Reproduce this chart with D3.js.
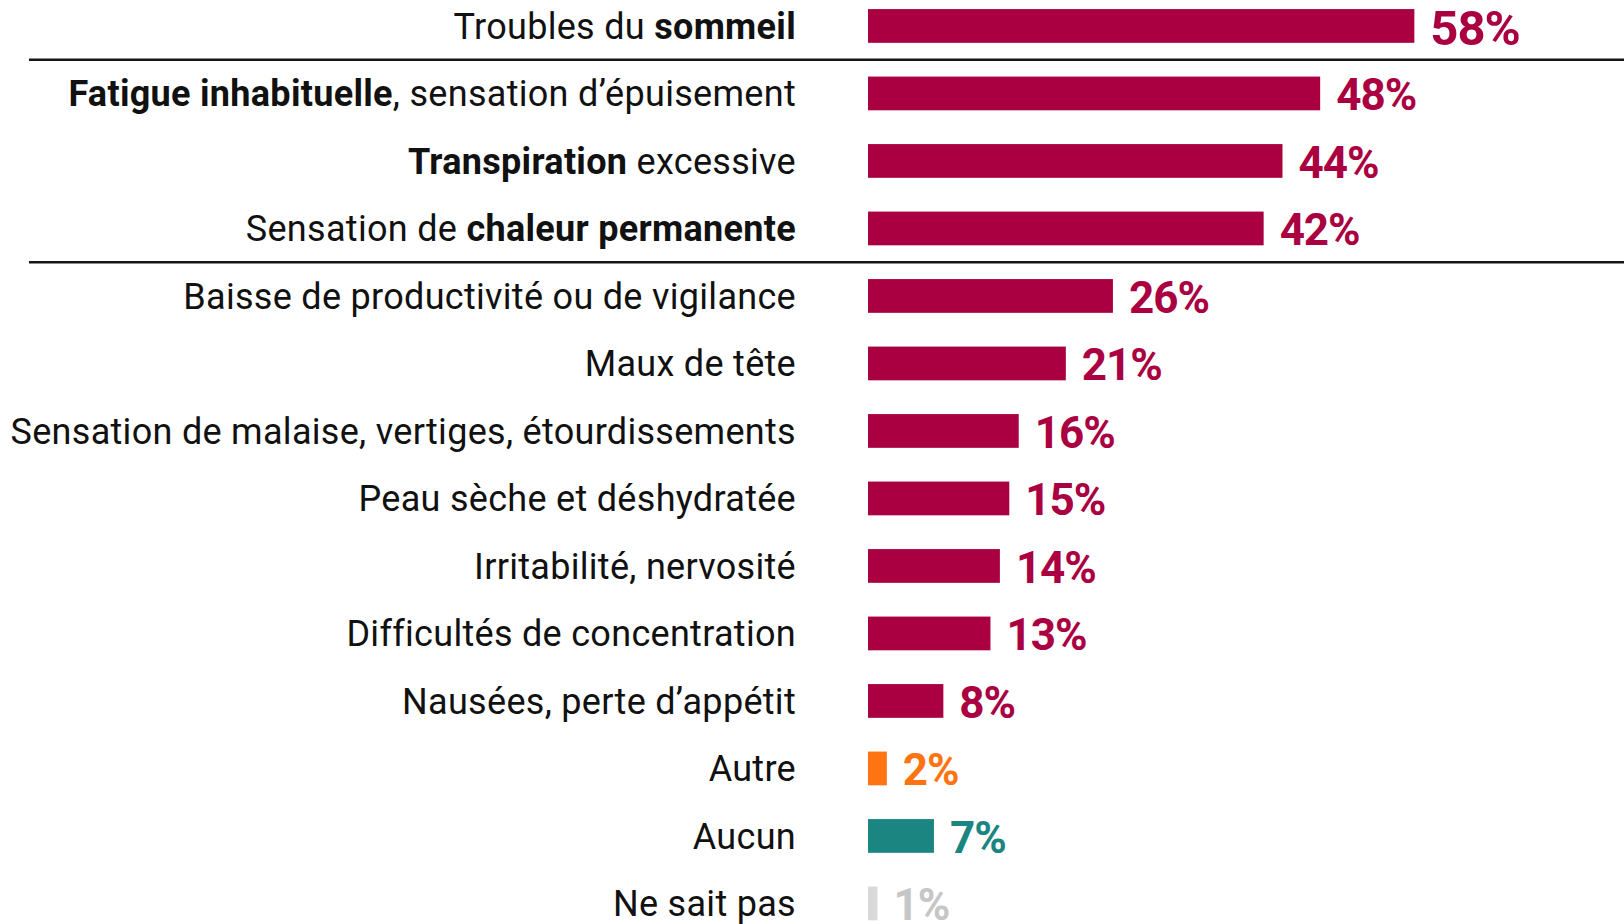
<html>

<head>
    <meta charset="utf-8" />
    <title>Symptômes</title>
    <script src="https://d3js.org/d3.v7.min.js"></script>
    <style>
        body {
            margin: 0;
            background: #fff;
            font-family: Roboto, "Noto Sans", Arial, sans-serif;
        }

        .cat-label {
            font-size: 36px;
            fill: #111;
            letter-spacing: 0.3px;
        }

        .val-label {
            font-weight: 700;
            font-size: 44px;
            letter-spacing: -1px;
        }
    </style>
</head>

<body>
    <svg id="chart" width="1624" height="924"></svg>
    <script>
        const categories = [
            "Troubles du sommeil",
            "Fatigue inhabituelle, sensation d’épuisement",
            "Transpiration excessive",
            "Sensation de chaleur permanente",
            "Baisse de productivité ou de vigilance",
            "Maux de tête",
            "Sensation de malaise, vertiges, étourdissements",
            "Peau sèche et déshydratée",
            "Irritabilité, nervosité",
            "Difficultés de concentration",
            "Nausées, perte d’appétit",
            "Autre",
            "Aucun",
            "Ne sait pas"
        ]
        // part of each label set in bold ("" = none)
        const boldTerms = ["sommeil", "Fatigue inhabituelle", "Transpiration", "chaleur permanente",
            "", "", "", "", "", "", "", "", "", ""]
        const values = [58, 48, 44, 42, 26, 21, 16, 15, 14, 13, 8, 2, 7, 1]
        const groups = ["symptom", "symptom", "symptom", "symptom", "symptom", "symptom", "symptom",
            "symptom", "symptom", "symptom", "symptom", "other", "none", "dk"]
        // separators drawn above these rows
        const separatorsBefore = [1, 4]

        const svg = d3.select("svg#chart")
        const width = +svg.attr("width")
        const height = +svg.attr("height")

        const barColor = d3.scaleOrdinal()
            .domain(["symptom", "other", "none", "dk"])
            .range(["#aa0042", "#ff7412", "#1a8581", "#d9d9d9"])
        const textColor = d3.scaleOrdinal()
            .domain(["symptom", "other", "none", "dk"])
            .range(["#aa0042", "#ff7412", "#1a8581", "#c6c6c6"])

        const data = categories.map((c, i) => ({
            cat: c,
            bold: boldTerms[i],
            value: values[i],
            group: groups[i],
            id: i
        }))

        const y = d3.scaleBand().domain(categories)
            .range([-7.8, 937.2])
            .paddingInner(0.5).paddingOuter(0.25)

        const x = d3.scaleLinear().domain([0, 100]).range([868, 868 + 942])

        const labelRight = 796

        // separator lines
        svg.append("g").attr("class", "separators")
            .selectAll("line").data(separatorsBefore)
            .join("line")
            .attr("x1", 29).attr("x2", width)
            .attr("y1", d => y(categories[d]) - (y.step() - y.bandwidth()) / 2)
            .attr("y2", d => y(categories[d]) - (y.step() - y.bandwidth()) / 2)
            .attr("stroke", "#161616")
            .attr("stroke-width", 2.6)

        // bars
        svg.append("g").attr("class", "bars")
            .selectAll("rect").data(data)
            .join("rect")
            .attr("x", x(0))
            .attr("y", d => y(d.cat))
            .attr("width", d => x(d.value) - x(0))
            .attr("height", y.bandwidth())
            .attr("fill", d => barColor(d.group))

        // category labels, with bold part
        const catLabels = svg.append("g").attr("class", "cat-labels")
            .selectAll("text").data(data)
            .join("text").attr("class", "cat-label")
            .attr("x", labelRight)
            .attr("y", d => y(d.cat) + y.bandwidth() / 2 + 13)
            .attr("text-anchor", "end")

        catLabels.each(function (d) {
            const t = d3.select(this)
            if (!d.bold) {
                t.text(d.cat)
                return
            }
            const k = d.cat.indexOf(d.bold)
            const parts = [
                [d.cat.slice(0, k), false],
                [d.bold, true],
                [d.cat.slice(k + d.bold.length), false]
            ].filter(p => p[0].length > 0)
            parts.forEach(p => {
                t.append("tspan")
                    .attr("font-weight", p[1] ? 700 : 400)
                    .text(p[0])
            })
        })

        // value labels
        svg.append("g").attr("class", "val-labels")
            .selectAll("text").data(data)
            .join("text").attr("class", "val-label")
            .attr("x", d => x(d.value) + 16)
            .attr("y", d => y(d.cat) + y.bandwidth() / 2 + (d.id === 0 ? 19 : 17))
            .attr("fill", d => textColor(d.group))
            .style("font-size", d => d.id === 0 ? "49px" : null)
            .text(d => d.value + "%")
    </script>
</body>

</html>
